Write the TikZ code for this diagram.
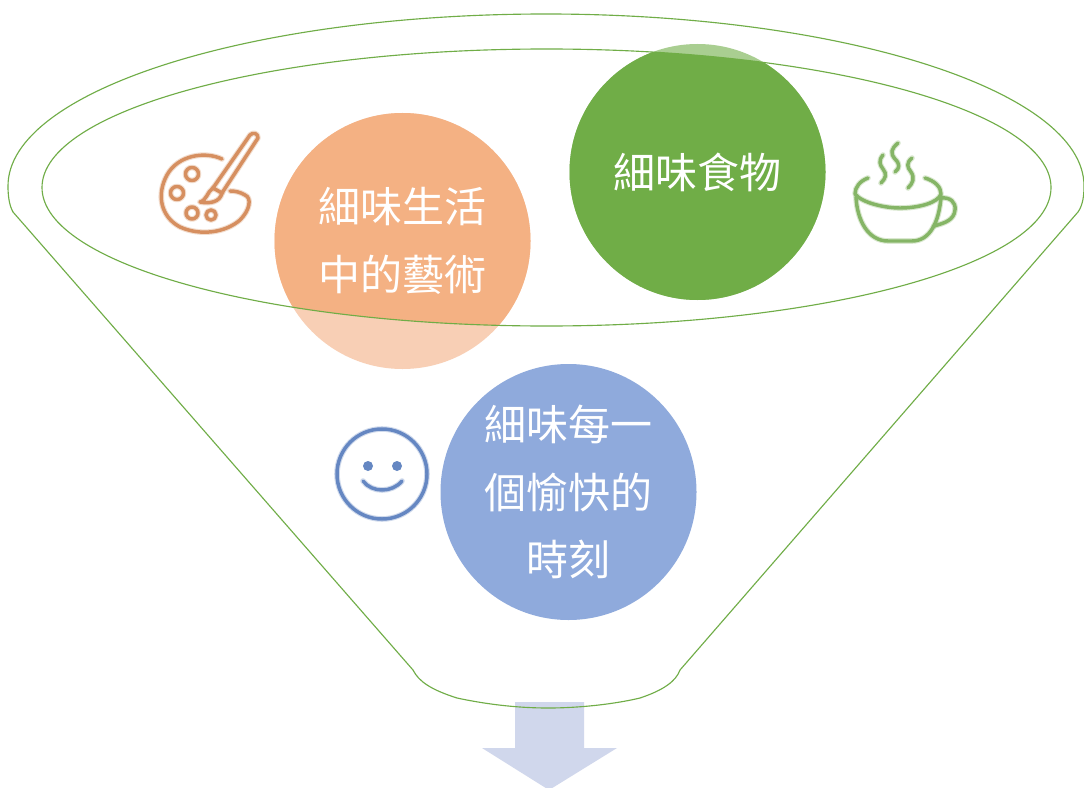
\documentclass[tikz,border=0pt]{standalone}
\usepackage{fontspec}
\newfontfamily\cjk{Noto Sans CJK TC}
\definecolor{fline}{HTML}{70AD47}
\definecolor{orangeS}{HTML}{F4B183}
\definecolor{orangeL}{HTML}{F8CFB5}
\definecolor{greenS}{HTML}{70AD47}
\definecolor{greenL}{HTML}{A9CE91}
\definecolor{blueS}{HTML}{8FAADC}
\definecolor{arrowc}{HTML}{D0D7EC}
\definecolor{iconO}{HTML}{D68F60}
\definecolor{iconG}{HTML}{85B566}
\definecolor{iconB}{HTML}{6587C2}
\tikzset{
  x=0.75pt,y=-0.75pt,
  funnel/.style={draw=fline,line width=0.85pt},
  disc/.style={circle,minimum size=192pt,inner sep=0pt,text=white,align=center,font=\cjk\fontsize{31.5}{50.5}\selectfont},
  icon/.style={line width=2.6pt,line cap=round,line join=round},
  iconglow/.style={line width=4.2pt,line cap=round,line join=round,draw opacity=0.3},
  palette/.pic={
    \draw (222,159) .. controls (205,151) and (178,155) .. (167,175) .. controls (156,195) and (161,217) .. (180,227)
      .. controls (200,236) and (225,233) .. (240,220) .. controls (250,210) and (252,198) .. (245,195) .. controls (240,192) and (235,191) .. (230,191);
    \draw (250,135) .. controls (253,132) and (258,133) .. (258,138) -- (222,193) -- (213,188) -- cycle;
    \draw (213,188) .. controls (207,192) and (207,200) .. (200,202) .. controls (210,204) and (220,202) .. (222,193);
    \draw (192,174) circle (6.5);
    \draw (177,193) circle (6.5);
    \draw (192,213) circle (6);
    \draw (211,215) circle (5);
  },
  cup/.pic={
    \draw (868,178) .. controls (860,181) and (855,187) .. (855,194) .. controls (862,203) and (885,208) .. (900,208) .. controls (918,208) and (938,203) .. (941,194) .. controls (941,187) and (935,181) .. (925,178);
    \draw (856,197) .. controls (857,220) and (868,241) .. (888,241) -- (912,241) .. controls (930,241) and (939,222) .. (941,197);
    \draw (941,198) .. controls (950,197) and (956,202) .. (955,210) .. controls (954,220) and (945,223) .. (934,226);
    \draw (883,155) .. controls (878,161) and (880,165) .. (883,169) .. controls (887,174) and (886,178) .. (881,183);
    \draw (898,143) .. controls (891,149) and (890,153) .. (895,159) .. controls (900,164) and (900,168) .. (895,172);
    \draw (912,158) .. controls (906,163) and (907,167) .. (911,172) .. controls (915,178) and (913,183) .. (908,188);
  },
  smile/.pic={
    \draw (382,474) circle (45);
    \draw (363,481) .. controls (372,493) and (392,493) .. (402,481);
  }
}
\begin{document}
\begin{tikzpicture}
\useasboundingbox (0,0) rectangle (1084,788);
\clip (0,0) rectangle (1084,788);
\fill[white] (0,0) rectangle (1084,788);
% arrow
\fill[arrowc] (515,702) -- (584,702) -- (584,748) -- (617,748) -- (549,790) -- (482,748) -- (515,748) -- cycle;
% discs, lighter outside the inner ellipse
\fill[orangeL] (402.5,241) circle (128);
\fill[greenL] (697.5,172) circle (128);
\begin{scope}
  \clip (546.5,187.5) ellipse (504.5 and 138.5);
  \fill[orangeS] (402.5,241) circle (128);
  \fill[greenS] (697.5,172) circle (128);
\end{scope}
\fill[blueS] (568.5,492) circle (128);
% funnel
\draw[funnel] (546.5,187.5) ellipse (504.5 and 138.5);
\draw[funnel] (13,212) .. controls (9,205) and (8,195) .. (8,186)
  .. controls (8,91) and (249,14) .. (546,14) .. controls (843,14) and (1084,91) .. (1084,186)
  .. controls (1084,195) and (1083,205) .. (1078,212)
  -- (680,670) .. controls (676,681) and (664,690) .. (640,698) .. controls (615,704) and (580,708) .. (548,708)
  .. controls (516,708) and (485,704) .. (457,698) .. controls (432,690) and (419,682) .. (413,670) -- cycle;
% text
\node[disc] (art) at (402.5,241) {細味生活\\中的藝術};
\node[disc] (food) at (697.5,172) {細味食物};
\node[disc] (moment) at (568.5,492) {細味每一\\個愉快的\\時刻};
% icons
\pic[draw=iconO,iconglow] {palette};
\pic[draw=iconO,icon] {palette};
\pic[draw=iconG,iconglow] {cup};
\pic[draw=iconG,icon] {cup};
\pic[draw=iconB,iconglow] {smile};
\pic[draw=iconB,icon] {smile};
\fill[iconB] (368,466) circle (5);
\fill[iconB] (397,466) circle (5);
\end{tikzpicture}
\end{document}
